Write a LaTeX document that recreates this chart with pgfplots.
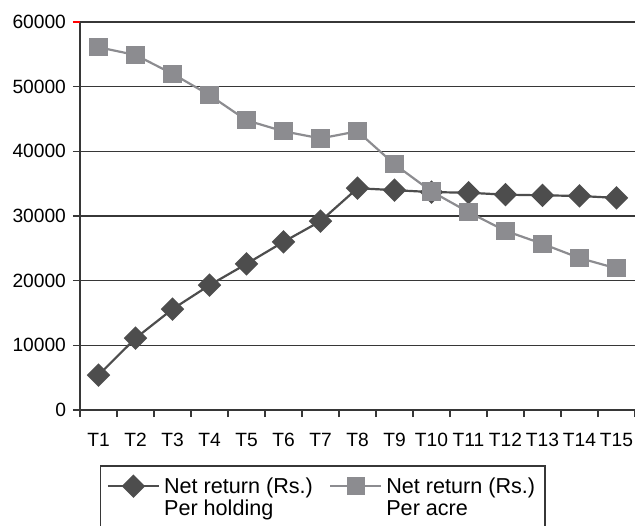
\documentclass[border=0pt]{standalone}
\usepackage{fontspec}
\setmainfont{Liberation Sans}
\usepackage{pgfplots}
\pgfplotsset{compat=1.18}
\definecolor{holding}{RGB}{77,77,77}
\definecolor{acre}{RGB}{140,140,144}
\definecolor{gridc}{RGB}{55,55,55}

\begin{document}
\begin{tikzpicture}
\begin{axis}[
    at={(0,0)}, anchor=south west,
    scale only axis, width=277.5pt, height=194pt,
    xmin=0.5, xmax=15.5, ymin=0, ymax=60000,
    axis x line*=bottom, axis y line*=left,
    axis line style={gridc, line width=0.7pt, -},
    tick align=outside,
    major tick length=3.5pt, minor tick length=3.5pt,
    xtick={1,...,15},
    xticklabels={T1,T2,T3,T4,T5,T6,T7,T8,T9,T10,T11,T12,T13,T14,T15},
    major x tick style={draw=none},
    minor xtick={0.5,1.5,...,15.5},
    minor x tick style={gridc, line width=0.7pt},
    xticklabel style={yshift=-4.5pt},
    ytick={0,10000,...,50000},
    scaled y ticks=false,
    extra y ticks={60000},
    extra y tick style={major y tick style={red, line width=0.7pt}},
    major y tick style={gridc, line width=0.7pt},
    ymajorgrids=true,
    major grid style={gridc, line width=0.7pt},
    /pgf/number format/1000 sep={},
    /pgf/number format/assume math mode=true,
    ticklabel style={font=\fontsize{9.6}{11}\selectfont},
    legend columns=2,
    legend cell align=left,
    legend style={
        at={(0.036,-0.142)}, anchor=north west,
        draw=gridc, line width=0.7pt,
        font=\fontsize{10.8}{11}\selectfont,
        cells={align=left},
        inner xsep=3pt, inner ysep=4pt,
        /tikz/every even column/.append style={column sep=6pt},
    },
    legend image code/.code={
        \draw[yshift=6pt, mark repeat=2, mark phase=2] plot coordinates {(0cm,0cm) (0.45cm,0cm) (0.9cm,0cm)};
    },
]

\addplot[color=holding, line width=1.1pt, mark=square*, mark size=3.6pt,
    mark options={rotate=45, fill=holding, draw=holding}]
    coordinates {
    (1,5400)(2,11100)(3,15600)(4,19300)(5,22600)(6,26000)(7,29200)(8,34300)
    (9,34000)(10,33700)(11,33600)(12,33300)(13,33200)(14,33100)(15,32800)
    };
\addlegendentry{Net return (Rs.)\\Per holding}

\addplot[color=acre, line width=1.1pt, mark=square*, mark size=4pt,
    mark options={fill=acre, draw=acre}]
    coordinates {
    (1,56100)(2,54900)(3,52000)(4,48700)(5,44800)(6,43100)(7,42000)(8,43100)
    (9,38000)(10,33800)(11,30600)(12,27700)(13,25700)(14,23500)(15,21900)
    };
\addlegendentry{Net return (Rs.)\\Per acre}

\end{axis}
\pgfresetboundingbox
\useasboundingbox (-40pt,-57.5pt) rectangle (277.5pt,205pt);
\end{tikzpicture}
\end{document}
